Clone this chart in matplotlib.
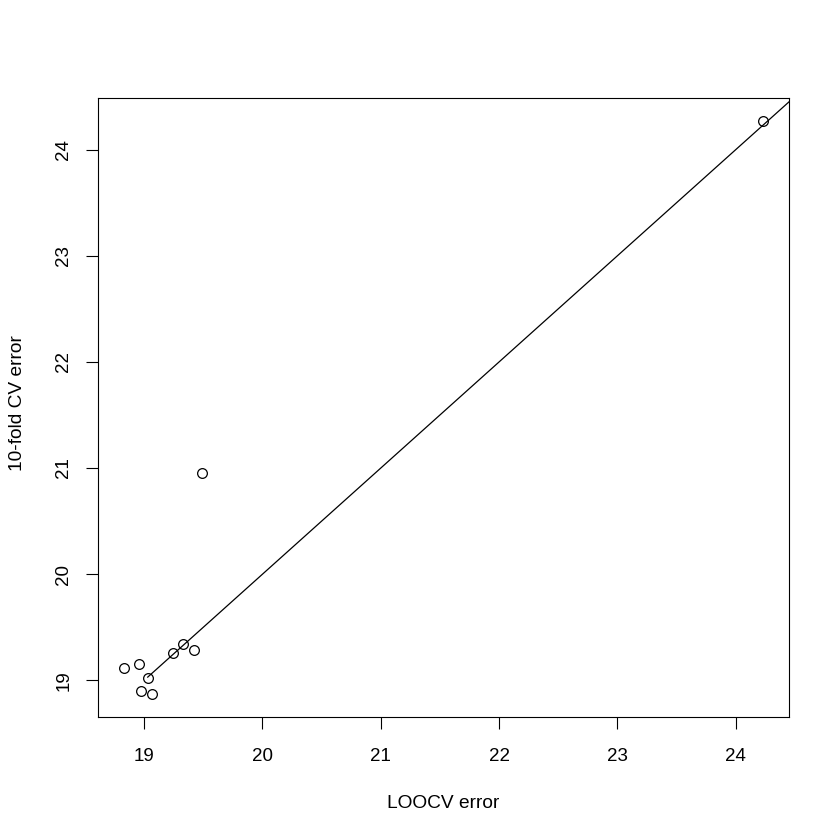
import matplotlib.pyplot as plt
import numpy as np

plt.rcParams['font.family'] = ['Liberation Sans', 'DejaVu Sans']

# LOOCV vs 10-fold CV error for each model
loocv = [18.83, 18.96, 19.03, 18.97, 19.065, 19.245, 19.33, 19.42, 19.49, 24.23]
kfold = [19.12, 19.15, 19.025, 18.90, 18.87, 19.26, 19.34, 19.29, 20.95, 24.27]
ticks = [19, 20, 21, 22, 23, 24]

fig = plt.figure(figsize=(8.4, 8.4), dpi=100)
ax = fig.add_axes([0.1167, 0.1464, 0.8226, 0.7369])

ax.plot(loocv, kfold, 'o', mfc='none', mec='black', ms=7.0, mew=0.9)

# y = x reference line, starting at the lowest-diagonal model
x0 = loocv[2]
ax.plot([x0, 26], [x0, 26], color='black', lw=0.9)

ax.set_xlim(18.61, 24.45)
ax.set_ylim(18.654, 24.486)
ax.set_xticks(ticks)
ax.set_yticks(ticks)
ax.set_yticklabels([str(t) for t in ticks], rotation=90, va='center')
ax.tick_params(direction='out', length=8.6, width=0.8, labelsize=13.5)
ax.tick_params(axis='x', pad=14)
ax.tick_params(axis='y', pad=10)
for s in ax.spines.values():
    s.set_linewidth(0.8)

ax.set_xlabel("LOOCV error", fontsize=13.8)
ax.set_ylabel("10-fold CV error", fontsize=13.8)
ax.xaxis.set_label_coords(0.5, -0.14)
ax.xaxis.label.set_va('center')
ax.yaxis.set_label_coords(-0.116, 0.507)
ax.yaxis.label.set_va('center')

fig.savefig("out.png", dpi=100)
